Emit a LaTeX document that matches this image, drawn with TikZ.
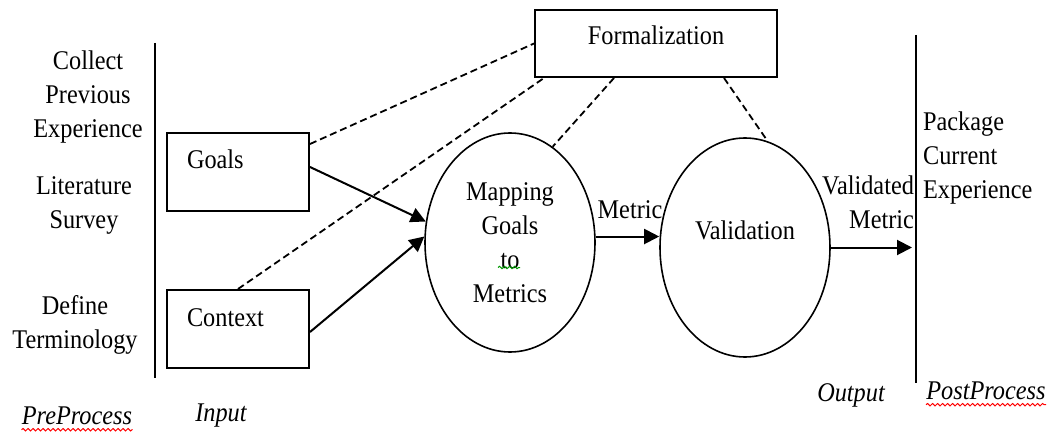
\documentclass[tikz,border=0pt]{standalone}
\usepackage{fontspec}
\setmainfont[FakeStretch=0.9]{Liberation Serif}
\usetikzlibrary{arrows.meta,shapes.geometric,calc,decorations.pathmorphing}

\begin{document}
\begin{tikzpicture}[
		x=0.5pt, y=-0.5pt,
		font=\fontsize{13.5}{17}\selectfont,
		arrow/.style={-{Triangle[length=7.5pt,width=7.5pt]}, line width=1pt},
		block/.style={draw, line width=1pt, minimum width=71pt, minimum height=39pt, text width=51pt, inner xsep=10pt, align=left, text height=9.5pt, text depth=12.5pt},
		phase/.style={draw, ellipse, line width=0.8pt, minimum width=85pt, minimum height=109.5pt, inner sep=0pt, align=center},
		link/.style={dash pattern=on 3.5pt off 2pt, line width=0.9pt},
		stage/.style={font=\fontsize{13.5}{17}\selectfont\itshape, inner xsep=0pt},
		squiggle/.style={decorate, decoration={snake, amplitude=0.6pt, segment length=2.5pt}, line width=0.5pt},
	]
	\useasboundingbox (0,0) rectangle (1050,433);

	% left column and its border
	\node[align=center] (col) at (88,97) {Collect\\Previous\\Experience};
	\node[align=center] (lit) at (84,205) {Literature\\Survey};
	\node[align=center] (def) at (75,325) {Define\\Terminology};
	\coordinate (lt) at (155,43);
	\coordinate (lb) at (155,378);
	\draw[line width=1pt] (lt) -- (lb);

	% inputs, formalization and the two phases
	\node[block] (goals) at (238,172) {Goals};
	\node[block] (ctx) at (238,329) {Context};
	\node[draw, line width=1pt, minimum width=121pt, minimum height=33.5pt, text height=9.5pt, text depth=8pt] (form) at (656,43.5) {Formalization};
	\node[phase] (map) at (510,242.5) {Mapping\\Goals\\to\\Metrics};
	\node[phase, text height=9.5pt, text depth=18pt] (val) at (745,247.5) {Validation};

	% right border and column
	\coordinate (rt) at (916,35);
	\coordinate (rb) at (916,383);
	\draw[line width=1pt] (rt) -- (rb);
	\node[anchor=west, align=left] (pkg) at (916,158) {Package\\Current\\Experience};

	% dashed links to formalization
	\draw[link] ($(goals.north east)+(0,12)$) -- (form.west);
	\draw[link] (ctx.north) -- ($(form.south west)+(10,0)$);
	\draw[link] ($(form.south west)+(80,0)$) -- (map.66);
	\draw[link] ($(form.south west)+(190,0)$) -- (val.78);

	% flow
	\draw[arrow] ($(goals.east)+(0,-5)$) -- (map.166);
	\draw[arrow] ($(ctx.east)+(0,3)$) -- (map.176);
	\draw[arrow] (map.4) -- (map.4 -| val.west);
	\node (met) at (630,210) {Metric};
	\draw[arrow] (val.east) -- ($(val.east -| rt)+(-4,0)$);
	\node[anchor=east, align=right] (vm) at (921,202) {Validated\\Metric};

	% stage names
	\node[stage] (pre) at (77,416) {PreProcess};
	\node[stage] (inp) at (221,416) {Input};
	\node[stage] (out) at (851,395) {Output};
	\node[stage] (post) at (986,391) {PostProcess};

	% wavy underlines
	\draw[squiggle, red] ([yshift=-2.5pt]pre.base west) -- ([yshift=-2.5pt]pre.base east);
	\draw[squiggle, red] ([yshift=-2.5pt]post.base west) -- ([yshift=-2.5pt]post.base east);
	\draw[squiggle, green!60!black] ($(map.center)+(-12,25)$) -- ++(22,0);
\end{tikzpicture}
\end{document}
